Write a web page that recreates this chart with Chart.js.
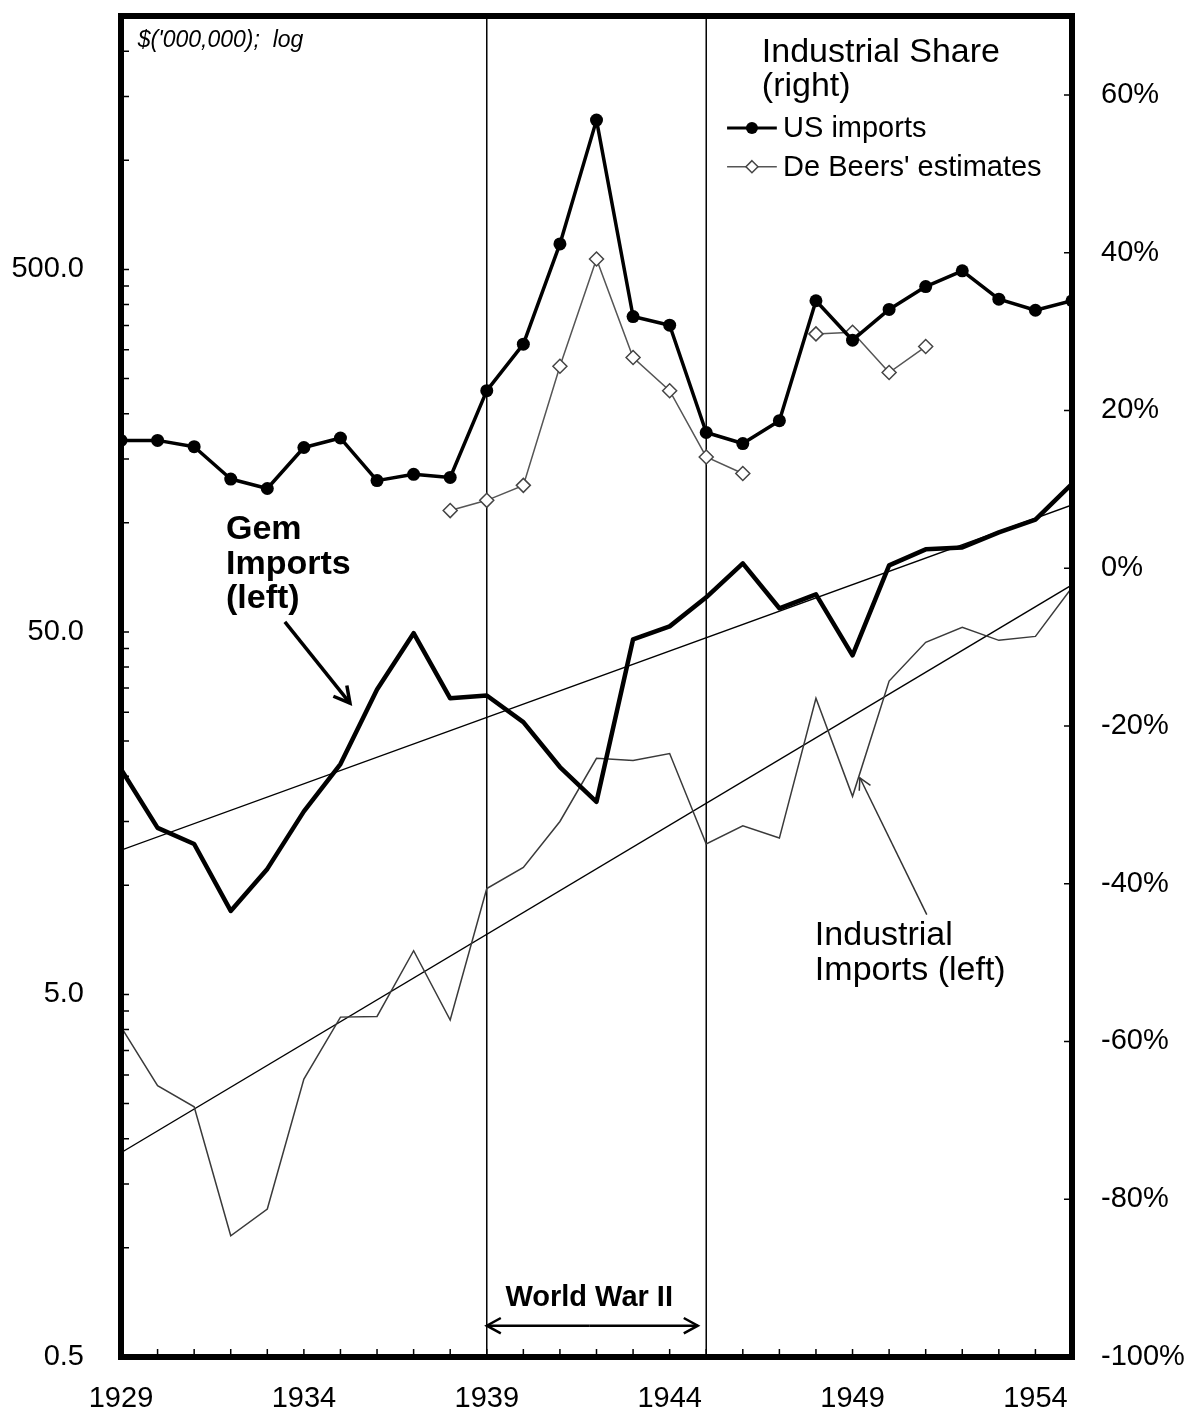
<!DOCTYPE html>
<html>
<head>
<meta charset="utf-8">
<script src="https://cdn.jsdelivr.net/npm/chart.js@4.4.0/dist/chart.umd.min.js"></script>
<style>
  html, body { margin: 0; padding: 0; background: #fff; }
</style>
</head>
<body>
<canvas id="diamondChart" width="1187" height="1410"></canvas>
<script>
// ---- data ----
const years = [1929, 1930, 1931, 1932, 1933, 1934, 1935, 1936, 1937, 1938, 1939, 1940, 1941, 1942,
               1943, 1944, 1945, 1946, 1947, 1948, 1949, 1950, 1951, 1952, 1953, 1954, 1955];

// Industrial share of US diamond imports, % (right axis)
const usImportsShare = [16.2, 16.2, 15.4, 11.3, 10.1, 15.3, 16.5, 11.1, 11.9, 11.5, 22.5, 28.4, 41.1, 56.8,
                        31.9, 30.8, 17.2, 15.8, 18.7, 33.9, 28.9, 32.8, 35.7, 37.7, 34.1, 32.7, 33.9];

// De Beers' estimates of the industrial share, % (right axis)
const deBeersYears = [1938, 1939, 1940, 1941, 1942, 1943, 1944, 1945, 1946, 1947, 1948, 1949, 1950, 1951];
const deBeersShare = [7.3, 8.6, 10.5, 25.6, 39.2, 26.7, 22.5, 14.1, 12.0, null, 29.7, 29.9, 24.8, 28.1];

// Imports, $ million, log scale (left axis)
const gemImports = [20.9, 14.4, 13.0, 8.5, 11.1, 16.0, 21.6, 34.7, 49.6, 32.8, 33.4, 28.2, 21.2, 17.0,
                    47.7, 51.8, 62.3, 77.3, 58.1, 63.5, 43.1, 76.3, 84.5, 85.5, 94.1, 102, 128];
const industrialImports = [4.07, 2.8, 2.45, 1.08, 1.28, 2.92, 4.33, 4.35, 6.6, 4.25, 9.8, 11.2, 15.0, 22.4,
                           22.1, 23.1, 13.0, 14.6, 13.5, 32.8, 17.6, 36.6, 46.8, 51.5, 47.4, 48.6, 66.3];

// exponential trend lines (straight on the log axis): start and end values
const trendYears = [1929, 1955];
const gemTrend = [12.5, 112];
const industrialTrend = [1.83, 67.4];

// axis ticks
const yearLabels = [1929, 1934, 1939, 1944, 1949, 1954];
const leftTicks = [0.5, 5, 50, 500];
const rightTicks = [-100, -80, -60, -40, -20, 0, 20, 40, 60];
const warYears = [1939, 1945];

const FONT = '"Liberation Sans", Arial, sans-serif';

function pts(xs, ys) {
    return xs.map((x, i) => ({ x: x, y: ys[i] }));
}

// minor ticks on the left log axis: 0.5 * k * 10^n
function leftMinorTicks(max) {
    const out = [];
    for (let base = 0.5; base < max; base *= 10) {
        for (let k = 2; k <= 9; k++) {
            if (base * k <= max) out.push(base * k);
        }
    }
    return out;
}

function drawArrow(ctx, x1, y1, x2, y2, head, width) {
    const ang = Math.atan2(y2 - y1, x2 - x1);
    ctx.lineWidth = width;
    ctx.beginPath();
    ctx.moveTo(x1, y1);
    ctx.lineTo(x2, y2);
    ctx.stroke();
    ctx.beginPath();
    ctx.moveTo(x2 - head * Math.cos(ang - 0.5), y2 - head * Math.sin(ang - 0.5));
    ctx.lineTo(x2, y2);
    ctx.lineTo(x2 - head * Math.cos(ang + 0.5), y2 - head * Math.sin(ang + 0.5));
    ctx.stroke();
}

// ------------------------------------
// frame, tick marks, notes and legend
// ------------------------------------
const notesPlugin = {
    id: 'notes',
    beforeDatasetsDraw(chart) {
        const { ctx, chartArea: a, scales } = chart;
        ctx.save();
        ctx.strokeStyle = '#000';
        ctx.lineWidth = 1.5;
        warYears.forEach(yr => {
            const px = scales.x.getPixelForValue(yr);
            ctx.beginPath();
            ctx.moveTo(px, a.top);
            ctx.lineTo(px, a.bottom);
            ctx.stroke();
        });
        ctx.restore();
    },
    afterDatasetsDraw(chart) {
        const { ctx, chartArea: a, scales } = chart;
        const X = v => scales.x.getPixelForValue(v);
        const L = v => scales.yL.getPixelForValue(v);
        const R = v => scales.yR.getPixelForValue(v);
        const tick = 8;

        ctx.save();
        ctx.strokeStyle = '#000';
        ctx.fillStyle = '#000';
        ctx.lineCap = 'butt';

        // tick marks, pointing inward
        ctx.lineWidth = 1.5;
        ctx.beginPath();
        for (let yr = 1929; yr <= 1955; yr++) {
            ctx.moveTo(X(yr), a.bottom);
            ctx.lineTo(X(yr), a.bottom - tick);
        }
        leftTicks.concat(leftMinorTicks(2500)).forEach(v => {
            ctx.moveTo(a.left, L(v));
            ctx.lineTo(a.left + tick, L(v));
        });
        rightTicks.forEach(v => {
            ctx.moveTo(a.right, R(v));
            ctx.lineTo(a.right - tick, R(v));
        });
        ctx.stroke();

        // heavy frame
        ctx.lineWidth = 6;
        ctx.strokeRect(a.left, a.top, a.right - a.left, a.bottom - a.top);

        // units label
        ctx.font = 'italic 23px ' + FONT;
        ctx.textAlign = 'left';
        ctx.textBaseline = 'alphabetic';
        ctx.fillText("$('000,000);  log", X(1929.46), R(66.1));

        // legend block (right axis series)
        ctx.font = '34px ' + FONT;
        ctx.fillText('Industrial Share', X(1946.52), R(64.2));
        ctx.fillText('(right)', X(1946.52), R(59.9));

        const symL = X(1945.57), symR = X(1946.93), symC = (symL + symR) / 2;
        const row1 = R(55.8), row2 = R(50.9);
        ctx.lineWidth = 3;
        ctx.beginPath();
        ctx.moveTo(symL, row1);
        ctx.lineTo(symR, row1);
        ctx.stroke();
        ctx.beginPath();
        ctx.arc(symC, row1, 6, 0, Math.PI * 2);
        ctx.fill();

        ctx.strokeStyle = '#555';
        ctx.lineWidth = 1.5;
        ctx.beginPath();
        ctx.moveTo(symL, row2);
        ctx.lineTo(symR, row2);
        ctx.stroke();
        ctx.fillStyle = '#fff';
        ctx.strokeStyle = '#444';
        ctx.beginPath();
        ctx.moveTo(symC, row2 - 6);
        ctx.lineTo(symC + 6, row2);
        ctx.lineTo(symC, row2 + 6);
        ctx.lineTo(symC - 6, row2);
        ctx.closePath();
        ctx.fill();
        ctx.stroke();

        ctx.fillStyle = '#000';
        ctx.strokeStyle = '#000';
        ctx.font = '29px ' + FONT;
        ctx.textBaseline = 'middle';
        ctx.fillText('US imports', X(1947.1), row1 + 1);
        ctx.fillText("De Beers' estimates", X(1947.1), row2 + 1);
        ctx.textBaseline = 'alphabetic';

        // Gem imports note + arrow
        ctx.font = 'bold 34px ' + FONT;
        const gx = X(1931.87), gy = L(90.3);
        ctx.fillText('Gem', gx, gy);
        ctx.fillText('Imports', gx, gy + 35);
        ctx.fillText('(left)', gx, gy + 69);
        drawArrow(ctx, X(1933.48), L(53.3), X(1935.26), L(31.8), 18, 3.5);

        // Industrial imports note + arrow
        ctx.font = '34px ' + FONT;
        const ix = X(1947.97), iy = L(6.85);
        ctx.fillText('Industrial', ix, iy);
        ctx.fillText('Imports (left)', ix, iy + 35);
        ctx.strokeStyle = '#333';
        drawArrow(ctx, X(1951.03), L(8.3), X(1949.2), L(19.8), 13, 1.5);

        // World War II span
        ctx.strokeStyle = '#000';
        ctx.font = 'bold 29px ' + FONT;
        ctx.textAlign = 'center';
        ctx.fillText('World War II', X(1941.8), L(0.69));
        const wy = L(0.61);
        drawArrow(ctx, X(1941.8), wy, X(1939), wy, 16, 2.5);
        drawArrow(ctx, X(1941.8), wy, X(1944.77), wy, 16, 2.5);

        ctx.restore();
    }
};

// ------------------------------------
// chart
// ------------------------------------
const ctx = document.getElementById('diamondChart');
new Chart(ctx, {
    type: 'line',
    data: {
        datasets: [
            {
                label: 'US imports',
                data: pts(years, usImportsShare),
                yAxisID: 'yR',
                borderColor: '#000',
                borderWidth: 3.5,
                pointRadius: 6.5,
                pointBackgroundColor: '#000',
                pointBorderWidth: 0,
                borderJoinStyle: 'round'
            },
            {
                label: "De Beers' estimates",
                data: pts(deBeersYears, deBeersShare),
                yAxisID: 'yR',
                borderColor: '#555',
                borderWidth: 1.5,
                pointStyle: 'rectRot',
                pointRadius: 7,
                pointBackgroundColor: '#fff',
                pointBorderColor: '#444',
                pointBorderWidth: 1.5,
                spanGaps: false
            },
            {
                label: 'Gem imports',
                data: pts(years, gemImports),
                yAxisID: 'yL',
                borderColor: '#000',
                borderWidth: 4.5,
                pointRadius: 0,
                borderJoinStyle: 'round'
            },
            {
                label: 'Industrial imports',
                data: pts(years, industrialImports),
                yAxisID: 'yL',
                borderColor: '#3a3a3a',
                borderWidth: 1.5,
                pointRadius: 0
            },
            {
                label: 'Gem trend',
                data: pts(trendYears, gemTrend),
                yAxisID: 'yL',
                borderColor: '#000',
                borderWidth: 1.3,
                pointRadius: 0
            },
            {
                label: 'Industrial trend',
                data: pts(trendYears, industrialTrend),
                yAxisID: 'yL',
                borderColor: '#000',
                borderWidth: 1.3,
                pointRadius: 0
            }
        ]
    },
    options: {
        responsive: false,
        animation: false,
        devicePixelRatio: 1,
        layout: { padding: { top: 16 } },
        plugins: {
            legend: { display: false },
            tooltip: { enabled: false }
        },
        scales: {
            x: {
                type: 'linear',
                min: 1929,
                max: 1955,
                grid: { display: false },
                border: { display: false },
                afterBuildTicks: s => { s.ticks = yearLabels.map(v => ({ value: v })); },
                afterFit: s => { s.height = 53; s.paddingLeft = 0; s.paddingRight = 0; },
                ticks: {
                    padding: 17,
                    maxRotation: 0,
                    color: '#000',
                    font: { family: FONT, size: 29 },
                    callback: v => String(v)
                }
            },
            yL: {
                type: 'logarithmic',
                position: 'left',
                min: 0.5,
                max: 2500,
                grid: { display: false },
                border: { display: false },
                afterBuildTicks: s => { s.ticks = leftTicks.map(v => ({ value: v })); },
                afterFit: s => { s.width = 121; s.paddingTop = 0; s.paddingBottom = 0; },
                ticks: {
                    padding: 29,
                    color: '#000',
                    font: { family: FONT, size: 29 },
                    callback: v => Number(v).toFixed(1)
                }
            },
            yR: {
                type: 'linear',
                position: 'right',
                min: -100,
                max: 70,
                grid: { display: false },
                border: { display: false },
                afterBuildTicks: s => { s.ticks = rightTicks.map(v => ({ value: v })); },
                afterFit: s => { s.width = 115; s.paddingTop = 0; s.paddingBottom = 0; },
                ticks: {
                    padding: 21,
                    color: '#000',
                    font: { family: FONT, size: 29 },
                    callback: v => v + '%'
                }
            }
        }
    },
    plugins: [notesPlugin]
});
</script>
</body>
</html>
